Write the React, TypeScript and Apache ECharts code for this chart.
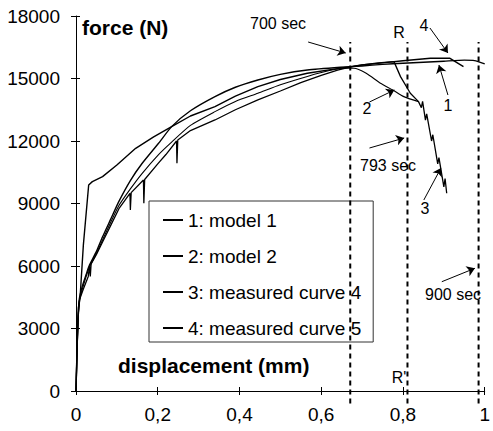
import React, { useEffect, useRef } from 'react';
import * as echarts from 'echarts';

const FONT = '"Liberation Sans", Arial, Helvetica, sans-serif';

const seriesNames = ['1: model 1', '2: model 2', '3: measured curve 4', '4: measured curve 5'];

// [displacement (mm), force (N)]
const model1: number[][] = [
  [0, 0], [0.002, 1500], [0.005, 3500], [0.008, 4400], [0.015, 5000], [0.025, 5600], [0.032, 6000],
  [0.05, 6700], [0.065, 7400], [0.085, 8250], [0.105, 9100], [0.133, 10100], [0.162, 10930],
  [0.202, 11890], [0.234, 12690], [0.28, 13450], [0.34, 14130], [0.39, 14580], [0.445, 14930],
  [0.5, 15200], [0.566, 15410], [0.647, 15540], [0.7, 15600], [0.75, 15680], [0.8, 15730],
  [0.85, 15780], [0.9, 15830], [0.95, 15880], [0.975, 15860], [1.0, 15700],
];

const model2: number[][] = [
  [0, 0], [0.002, 1400], [0.005, 3300], [0.008, 4300], [0.015, 4850], [0.025, 5500], [0.032, 5900],
  [0.05, 6600], [0.065, 7250], [0.085, 8100], [0.105, 8900], [0.133, 9700], [0.162, 10450],
  [0.202, 11350], [0.234, 11950], [0.28, 12750], [0.34, 13410], [0.39, 13900], [0.445, 14290],
  [0.5, 14700], [0.566, 15100], [0.62, 15380], [0.66, 15490], [0.68, 15490], [0.71, 15250],
  [0.745, 14770], [0.775, 14450], [0.802, 14130], [0.838, 13890],
];

const measured4: number[][] = [
  [0, 0], [0.002, 1500], [0.005, 3500], [0.009, 4400], [0.018, 4900], [0.03, 5500], [0.033, 6000],
  [0.035, 5500], [0.037, 6100], [0.05, 6550], [0.065, 7150], [0.085, 7950], [0.105, 8750],
  [0.132, 9490], [0.133, 8690], [0.135, 9520], [0.165, 10130], [0.166, 9010], [0.168, 10150],
  [0.2, 10900], [0.22, 11350], [0.246, 12000], [0.247, 10930], [0.249, 12050], [0.28, 12500],
  [0.34, 13010], [0.39, 13500], [0.445, 13970], [0.5, 14400], [0.55, 14800], [0.6, 15150],
  [0.64, 15400], [0.67, 15550], [0.7, 15650], [0.74, 15750], [0.778, 15810], [0.794, 15090],
  [0.818, 14290], [0.838, 13890], [0.845, 13600], [0.848, 13900], [0.855, 13000], [0.858, 13300],
  [0.87, 12000], [0.873, 12300], [0.885, 10900], [0.888, 11200], [0.9, 9800], [0.903, 10200],
  [0.907, 9490],
];

const measured5: number[][] = [
  [0, 0], [0.003, 2500], [0.006, 4000], [0.01, 4500], [0.018, 7000], [0.031, 9890], [0.04, 10050],
  [0.065, 10290], [0.1, 10850], [0.146, 11650], [0.19, 12200], [0.234, 12690], [0.28, 13200],
  [0.34, 13650], [0.39, 14150], [0.445, 14610], [0.5, 14950], [0.566, 15250], [0.647, 15500],
  [0.7, 15650], [0.75, 15750], [0.8, 15850], [0.867, 15970], [0.915, 15970], [0.948, 15570],
];

const curveData = [model1, model2, measured4, measured5];
const curveWidths = [1.4, 1.1, 1.3, 1.4];

// time marks (700 sec, 793 sec / R, 900 sec) as displacement values
const timeLines = [0.671, 0.811, 0.985];
const timeLineSpan = [-600, 16750];

// annotation arrows: [from, to] in data units
const arrows: number[][][] = [
  [[0.568, 16752], [0.66, 16224]],
  [[0.866, 17424], [0.91, 16224]],
  [[0.91, 14208], [0.888, 15648]],
  [[0.718, 13872], [0.779, 14448]],
  [[0.718, 11664], [0.803, 12144]],
  [[0.851, 9168], [0.893, 10704]],
  [[0.895, 5246], [0.976, 5890]],
];

const xTickLabels: Record<string, string> = { '0': '0', '0.2': '0,2', '0.4': '0,4', '0.6': '0,6', '0.8': '0,8', '1': '1' };

const annotations = [
  { text: '700 sec', x: 278, y: 23 },
  { text: 'R', x: 399, y: 32 },
  { text: '4', x: 424, y: 25 },
  { text: '1', x: 448, y: 105 },
  { text: '2', x: 367, y: 108 },
  { text: '793 sec', x: 388, y: 165 },
  { text: '3', x: 425, y: 208 },
  { text: '900 sec', x: 453, y: 294 },
  { text: "R'", x: 399, y: 377 },
];

export default function App() {
  const ref = useRef<HTMLDivElement>(null);
  useEffect(() => {
    const chart = echarts.init(ref.current!, null, { renderer: 'svg' });
    const xBase = { type: 'value', min: 0, max: 1, interval: 0.2 };
    const yBase = { type: 'value', min: 0, max: 18000, interval: 3000 };
    chart.setOption({
      animation: false,
      backgroundColor: '#fff',
      grid: { left: 76, right: 5, top: 16, bottom: 40, containLabel: false },
      xAxis: [
        {
          ...xBase,
          position: 'bottom',
          axisLine: { show: true, onZero: false, lineStyle: { color: '#000', width: 1 } },
          axisTick: { show: true, length: 4, lineStyle: { color: '#000' } },
          axisLabel: {
            fontSize: 19, color: '#000', fontFamily: FONT, margin: 14,
            formatter: (v: number) => xTickLabels[String(Number(v.toFixed(1)))] ?? String(v),
          },
          splitLine: { show: false },
        },
        {
          ...xBase,
          position: 'bottom',
          axisLine: { show: false },
          axisTick: { show: true, inside: true, length: 4, lineStyle: { color: '#000' } },
          axisLabel: { show: false },
          splitLine: { show: false },
        },
      ],
      yAxis: [
        {
          ...yBase,
          position: 'left',
          axisLine: { show: true, onZero: false, lineStyle: { color: '#000', width: 1 } },
          axisTick: { show: true, length: 5, lineStyle: { color: '#000' } },
          axisLabel: { fontSize: 19, color: '#000', fontFamily: FONT, margin: 16, formatter: (v: number) => String(v) },
          splitLine: { show: false },
        },
        {
          ...yBase,
          position: 'left',
          axisLine: { show: false },
          axisTick: { show: true, inside: true, length: 4, lineStyle: { color: '#000' } },
          axisLabel: { show: false },
          splitLine: { show: false },
        },
      ],
      legend: {
        data: seriesNames.map((name) => ({ name, icon: 'rect' })),
        orient: 'vertical',
        left: 149,
        top: 201,
        padding: [9, 12, 4, 14],
        itemGap: 16,
        itemWidth: 20,
        itemHeight: 2,
        borderColor: '#333',
        borderWidth: 1,
        selectedMode: false,
        itemStyle: { color: '#000', borderWidth: 0 },
        textStyle: { fontSize: 19, fontFamily: FONT, color: '#000', lineHeight: 20 },
      },
      series: [
        ...seriesNames.map((name, i) => ({
          name,
          type: 'line',
          data: curveData[i],
          symbol: 'none',
          smooth: i < 2 ? 0.2 : false,
          lineStyle: { color: '#000', width: curveWidths[i] },
          itemStyle: { color: '#000' },
          z: 3,
        })),
        ...timeLines.map((x) => ({
          name: 'time ' + x,
          type: 'line',
          data: [[x, timeLineSpan[0]], [x, timeLineSpan[1]]],
          symbol: 'none',
          clip: false,
          silent: true,
          lineStyle: { color: '#000', width: 2, type: [5, 4] },
          z: 4,
        })),
        {
          name: 'arrows',
          type: 'lines',
          coordinateSystem: 'cartesian2d',
          symbol: ['none', 'arrow'],
          symbolSize: 8,
          silent: true,
          lineStyle: { color: '#000', width: 1, opacity: 1, curveness: 0 },
          data: arrows.map((a) => ({ coords: a })),
          z: 5,
        },
      ],
      graphic: [
        {
          type: 'text', x: 82, y: 27,
          style: { text: 'force (N)', fontSize: 21, fontWeight: 'bold', fontFamily: FONT, fill: '#000', align: 'left', verticalAlign: 'middle' },
        },
        {
          type: 'text', x: 118, y: 365,
          style: { text: 'displacement (mm)', fontSize: 21, fontWeight: 'bold', fontFamily: FONT, fill: '#000', align: 'left', verticalAlign: 'middle' },
        },
        ...annotations.map((a) => ({
          type: 'text', x: a.x, y: a.y,
          style: { text: a.text, fontSize: 16, fontFamily: FONT, fill: '#000', align: 'center', verticalAlign: 'middle' },
        })),
      ],
    });
    return () => chart.dispose();
  }, []);
  return <div ref={ref} style={{ position: 'fixed', left: 0, top: 0, width: 493, height: 431 }} />;
}
